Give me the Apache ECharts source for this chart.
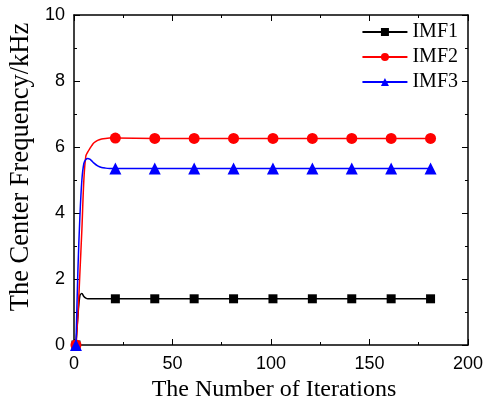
<!DOCTYPE html>
<html>
<head>
<meta charset="utf-8">
<script src="https://cdn.jsdelivr.net/npm/echarts@6/dist/echarts.min.js"></script>
<style>
  html, body { margin: 0; padding: 0; background: #fff; }
  #chart { width: 486px; height: 410px; }
</style>
</head>
<body>
<div id="chart"></div>
<script>
// Iteration index of each sampled point (shared by all three modes)
const iterations = [1, 2, 3, 4, 5, 6, 7, 8, 9, 10, 12, 14, 16, 18,
                    21, 41, 61, 81, 101, 121, 141, 161, 181];
// Iterations that carry a marker
const markerIterations = [1, 21, 41, 61, 81, 101, 121, 141, 161, 181];

// Center frequency (kHz) of each intrinsic mode function
const imf1 = [0, 0.9, 1.5, 1.56, 1.47, 1.42, 1.40, 1.40, 1.40, 1.40, 1.40, 1.40, 1.40, 1.40,
              1.40, 1.40, 1.40, 1.40, 1.40, 1.40, 1.40, 1.40, 1.40];
const imf2 = [0, 0.9, 2.2, 3.5, 5.0, 5.72, 5.85, 5.95, 6.04, 6.12, 6.20, 6.24, 6.26, 6.27,
              6.27, 6.26, 6.26, 6.26, 6.26, 6.26, 6.26, 6.26, 6.26];
const imf3 = [0, 2.3, 3.9, 5.0, 5.5, 5.62, 5.65, 5.63, 5.58, 5.52, 5.43, 5.38, 5.36, 5.35,
              5.35, 5.35, 5.35, 5.35, 5.35, 5.35, 5.35, 5.35, 5.35];

const seriesNames = ['IMF1', 'IMF2', 'IMF3'];
const seriesValues = [imf1, imf2, imf3];
const seriesColors = ['#000000', '#ff0000', '#0000ff'];
const seriesSymbols = ['rect', 'circle', 'triangle'];
const symbolSizes = [9, 11, 12];

const xTicks = { min: 0, max: 200, interval: 50 };
const yTicks = { min: 0, max: 10, interval: 2 };

const serif = 'Liberation Serif, Times New Roman, serif';
const sans = 'Liberation Sans, Arial, sans-serif';

function buildData(values) {
  return iterations.map((it, i) => {
    const item = { value: [it, values[i]] };
    if (markerIterations.indexOf(it) < 0) item.symbol = 'none';
    return item;
  });
}

const frameAxis = {
  axisLine: { show: true, onZero: false, lineStyle: { color: '#000', width: 1.5 } },
  axisTick: { show: true, inside: true, length: 6, lineStyle: { color: '#000', width: 1 } },
  minorTick: { show: true, splitNumber: 2, length: 3, lineStyle: { color: '#000', width: 1 } },
  splitLine: { show: false }
};

const chart = echarts.init(document.getElementById('chart'), null, { renderer: 'canvas' });

chart.setOption({
  backgroundColor: '#fff',
  animation: false,
  grid: { left: 74, right: 16, top: 15, bottom: 65 },
  xAxis: [
    Object.assign({
      type: 'value', position: 'bottom',
      min: xTicks.min, max: xTicks.max, interval: xTicks.interval,
      axisLabel: { fontFamily: sans, fontSize: 18, color: '#000', margin: 10 },
      name: 'The Number of Iterations',
      nameLocation: 'middle', nameGap: 31,
      nameTextStyle: { fontFamily: serif, fontSize: 24, color: '#000', padding: [0, 0, 0, 6] }
    }, frameAxis),
    Object.assign({
      type: 'value', position: 'top',
      min: xTicks.min, max: xTicks.max, interval: xTicks.interval,
      axisLabel: { show: false }
    }, frameAxis)
  ],
  yAxis: [
    Object.assign({
      type: 'value', position: 'left',
      min: yTicks.min, max: yTicks.max, interval: yTicks.interval,
      axisLabel: { fontFamily: sans, fontSize: 18, color: '#000', margin: 9 }
    }, frameAxis),
    Object.assign({
      type: 'value', position: 'right',
      min: yTicks.min, max: yTicks.max, interval: yTicks.interval,
      axisLabel: { show: false }
    }, frameAxis)
  ],
  legend: {
    orient: 'vertical',
    right: 23, top: 17,
    itemWidth: 45, itemHeight: 10, itemGap: 5,
    textStyle: { fontFamily: serif, fontSize: 20, color: '#000' },
    data: seriesNames
  },
  graphic: [{
    type: 'text',
    x: 21, y: 167,
    rotation: Math.PI / 2,
    style: {
      text: 'The Center Frequency/kHz',
      font: '26.5px ' + serif,
      fill: '#000',
      align: 'center',
      verticalAlign: 'middle'
    }
  }],
  series: seriesNames.map((name, k) => ({
    name: name,
    type: 'line',
    xAxisIndex: 0, yAxisIndex: 0,
    data: buildData(seriesValues[k]),
    symbol: seriesSymbols[k],
    symbolSize: symbolSizes[k],
    showSymbol: true,
    smooth: 0.3,
    lineStyle: { color: seriesColors[k], width: 1.5 },
    itemStyle: { color: seriesColors[k] },
    z: 2 + k
  }))
});
</script>
</body>
</html>
